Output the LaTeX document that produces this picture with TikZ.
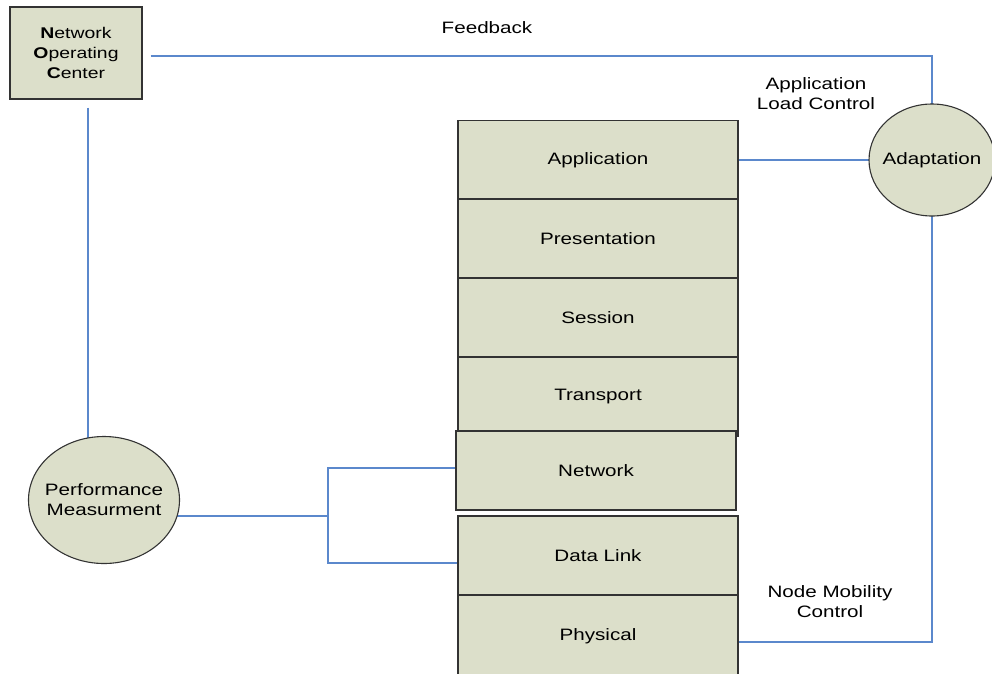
\documentclass[tikz,border=0pt]{standalone}
\usepackage{fontspec}
\setmainfont[FakeStretch=1.25]{Liberation Sans}
\usetikzlibrary{shapes.geometric,backgrounds}
\definecolor{layerfill}{HTML}{DCDFCA}
\definecolor{linkblue}{HTML}{5B88CC}
\begin{document}
\begin{tikzpicture}[x=1pt,y=-1pt,
  font=\fontsize{16.5}{20}\selectfont,
  layer/.style={draw=black!80,line width=1.1pt,fill=layerfill,minimum width=280pt,minimum height=79pt},
  blob/.style={ellipse,draw=black!80,line width=1.1pt,fill=layerfill,align=center,
    inner xsep=-7pt,inner ysep=0pt},
  link/.style={draw=linkblue,line width=1.2pt}]
\useasboundingbox (0,0) rectangle (992,673);
\node [draw=black!80,line width=1.1pt,fill=layerfill,minimum width=132pt,minimum height=92pt,
  align=center,font=\fontsize{15.5}{20}\selectfont] (noc) at (76,53)
  {\textbf{N}etwork\\\textbf{O}perating\\\textbf{C}enter};
\node [layer] (app) at (598,160) {Application};
\node [layer] (pres) at (598,238.5) {Presentation};
\node [layer] (sess) at (598,317.5) {Session};
\node [layer] (trans) at (598,397) {Transport};
\node [layer] (net) at (596,470.5) {Network};
\node [layer] (dl) at (598,555.5) {Data Link};
\node [layer,minimum height=82pt] (phy) at (598,636) {Physical};
\node [blob,minimum width=126pt,minimum height=112pt] (adapt) at (932,160) {Adaptation};
\node [blob,minimum width=151pt,minimum height=127pt] (perf) at (104,500) {Performance\\Measurment};
\node (fb) at (487,28) {Feedback};
\node [align=center] (alc) at (816,94) {Application\\Load Control};
\node [align=center] (nmc) at (830,602) {Node Mobility\\Control};
\coordinate (forkA) at (328,468);
\coordinate (forkM) at (328,516);
\coordinate (forkB) at (328,563);
\coordinate (mob) at (932,642);
\begin{scope}[on background layer]
\draw [link] ([xshift=8pt,yshift=-3pt]noc.east) -| (adapt.center);
\draw [link] (noc.south) ++(12,8) coordinate (nocdown) -- (nocdown |- perf.center);
\draw [link] (app.east) -- (adapt.center);
\draw [link] (adapt.center) -- (mob) -- (mob -| phy.east);
\draw [link] (forkM -| perf.center) -- (forkM);
\draw [link] (net.west |- forkA) -- (forkA) -- (forkB) -- (forkB -| dl.west);
\end{scope}
\end{tikzpicture}
\end{document}
